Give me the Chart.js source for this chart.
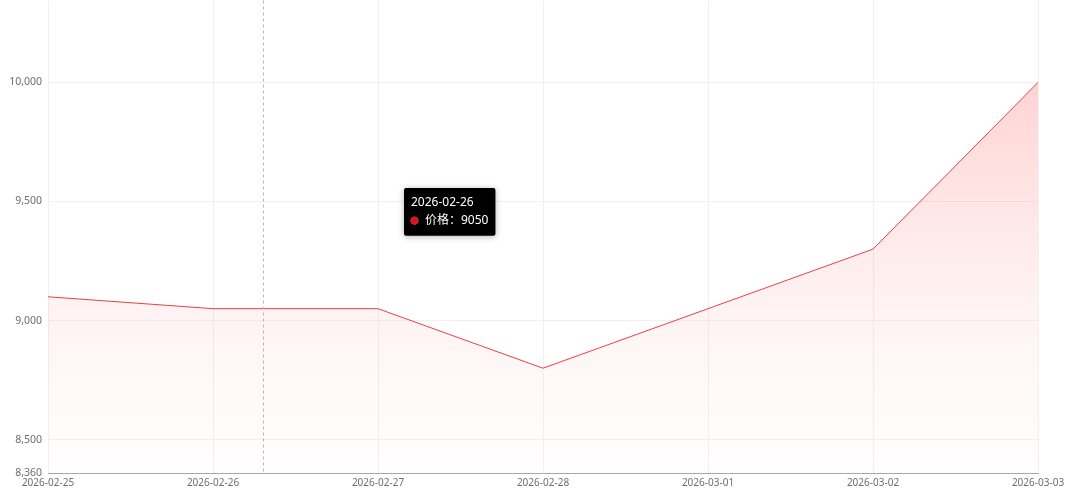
<!DOCTYPE html>
<html>
<head>
<meta charset="utf-8">
<script src="https://cdn.jsdelivr.net/npm/chart.js@4/dist/chart.umd.min.js"></script>
<style>
  html, body { margin: 0; padding: 0; background: #fff; }
  #wrap { width: 1080px; height: 500px; position: relative; }
</style>
</head>
<body>
<div id="wrap"><canvas id="chartPrice"></canvas></div>
<script>
'use strict';

// Data
const dates = ['2026-02-25', '2026-02-26', '2026-02-27', '2026-02-28', '2026-03-01', '2026-03-02', '2026-03-03'];
const prices = [9100, 9050, 9050, 8800, 9050, 9300, 10000];
const yTicks = [8360, 8500, 9000, 9500, 10000];
const yMin = 8360;
const yMax = 10344;
const seriesName = '价格';

// hovered position (crosshair sits between categories, tooltip on 02-26)
const hoverIndex = 1.3;
const hoverPoint = 1;

const FONT = "'Noto Sans', 'Noto Sans CJK SC', sans-serif";
const lineRed = '#e8404a';

Chart.defaults.font.family = FONT;

const crosshair = {
    id: 'crosshair',
    afterDatasetsDraw(chart) {
        const { ctx, chartArea, scales } = chart;
        const x = Math.round(scales.x.getPixelForValue(hoverIndex)) + 0.5;
        ctx.save();
        ctx.strokeStyle = '#b8b8b8';
        ctx.lineWidth = 1;
        ctx.setLineDash([3, 3]);
        ctx.beginPath();
        ctx.moveTo(x, chartArea.top);
        ctx.lineTo(x, chartArea.bottom);
        ctx.stroke();
        ctx.restore();
    },
    beforeTooltipDraw(chart) {
        const ctx = chart.ctx;
        ctx.save();
        ctx.shadowColor = 'rgba(0,0,0,0.3)';
        ctx.shadowBlur = 6;
        ctx.shadowOffsetY = 1;
    },
    afterTooltipDraw(chart) {
        chart.ctx.restore();
    }
};

Chart.Tooltip.positioners.fixedSpot = function () {
    return { x: 406, y: 188, xAlign: 'left', yAlign: 'top' };
};

const ctx = document.getElementById('chartPrice');
const chart = new Chart(ctx, {
    type: 'line',
    data: {
        labels: dates,
        datasets: [{
            label: seriesName,
            data: prices,
            borderColor: lineRed,
            borderWidth: 1,
            pointRadius: 0,
            pointHoverRadius: 0,
            tension: 0,
            fill: true,
            backgroundColor: (c) => {
                const area = c.chart.chartArea;
                if (!area) return 'rgba(255,120,120,0.2)';
                const g = c.chart.ctx.createLinearGradient(0, area.top, 0, area.bottom);
                g.addColorStop(0, 'rgba(255,140,140,0.55)');
                g.addColorStop(0.2, 'rgba(255,150,150,0.4)');
                g.addColorStop(0.6, 'rgba(255,170,170,0.18)');
                g.addColorStop(1, 'rgba(255,210,210,0.03)');
                return g;
            },
        }],
    },
    options: {
        responsive: true, maintainAspectRatio: false,
        animation: false,
        events: [],
        layout: { padding: { left: 0, right: 42, top: 0, bottom: 0 } },
        plugins: {
            legend: { display: false },
            title: { display: false },
            tooltip: {
                enabled: true,
                position: 'fixedSpot',
                backgroundColor: '#000',
                titleColor: '#fff',
                bodyColor: '#fff',
                titleFont: { family: FONT, size: 12, weight: 'normal' },
                bodyFont: { family: FONT, size: 12, weight: 'normal' },
                titleMarginBottom: 4,
                padding: { left: 7, right: 7, top: 7, bottom: 8 },
                cornerRadius: 2,
                caretSize: 0,
                caretPadding: 0,
                displayColors: true,
                usePointStyle: true,
                boxWidth: 7,
                boxHeight: 7,
                boxPadding: 5,
                callbacks: {
                    title: items => items[0].label,
                    label: c => seriesName + '：' + c.raw,
                    labelColor: () => ({ borderColor: '#e8101e', backgroundColor: '#e8101e' }),
                    labelPointStyle: () => ({ pointStyle: 'circle', rotation: 0 }),
                },
            },
        },
        scales: {
            x: {
                offset: false,
                grid: { color: '#f0f0f0', drawTicks: false },
                border: { color: '#a8a8a8', width: 1, z: 1 },
                ticks: {
                    color: '#6e6e6e', font: { size: 10 }, padding: 4,
                    autoSkip: false, maxRotation: 0, minRotation: 0,
                },
                afterFit: s => { s.height = 27; },
            },
            y: {
                min: yMin, max: yMax,
                grid: { color: '#f0f0f0', drawTicks: false },
                border: { display: false },
                afterBuildTicks: s => { s.ticks = yTicks.map(v => ({ value: v })); },
                ticks: {
                    color: '#6e6e6e', font: { size: 10.5 }, padding: 6,
                    callback: v => v.toLocaleString('en-US'),
                },
                afterFit: s => { s.width = 48; s.paddingTop = 0; s.paddingBottom = 0; },
            },
        },
    },
    plugins: [crosshair],
});

chart.tooltip.setActiveElements([{ datasetIndex: 0, index: hoverPoint }], { x: 262, y: 200 });
chart.update();
</script>
</body>
</html>
